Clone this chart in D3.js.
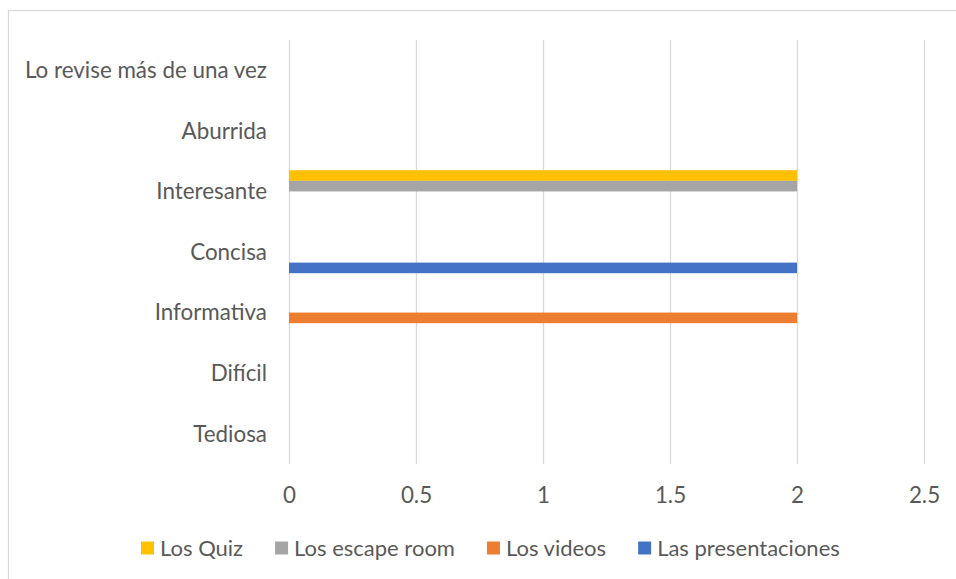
<!DOCTYPE html>
<html>
<head>
<meta charset="utf-8">
<script src="https://cdn.jsdelivr.net/npm/d3@7"></script>
<style>
  html, body { margin: 0; padding: 0; background: #fff; overflow: hidden; }
  svg { display: block; }
  text { font-family: Lato, "Open Sans", sans-serif; }
</style>
</head>
<body>
<script>
// Categories listed top to bottom
const categories = ["Lo revise más de una vez", "Aburrida", "Interesante", "Concisa", "Informativa", "Difícil", "Tediosa"];
const seriesNames = ["Los Quiz", "Los escape room", "Los videos", "Las presentaciones"];
const seriesColors = ["#FFC000", "#A5A5A5", "#ED7D31", "#4472C4"];
// Values per series, in the same order as categories
const quizValues          = [0, 0, 2, 0, 0, 0, 0];
const escapeRoomValues    = [0, 0, 2, 0, 0, 0, 0];
const videoValues         = [0, 0, 0, 0, 2, 0, 0];
const presentationValues  = [0, 0, 0, 2, 0, 0, 0];
const xTicks = [0, 0.5, 1, 1.5, 2, 2.5];

const seriesValues = [quizValues, escapeRoomValues, videoValues, presentationValues];

const W = 956, H = 579;
const plot = { left: 289, right: 924, top: 40, bottom: 464 };
const FONT = "22.4px";
const LEGEND_FONT = "22px";
const TEXT = "#595959";

const svg = d3.select("body").append("svg").attr("width", W).attr("height", H);

// chart frame (runs past the right and bottom edges)
svg.append("rect").attr("x", 8.5).attr("y", 10.5).attr("width", W + 20).attr("height", H + 20)
  .attr("fill", "#fff").attr("stroke", "#d9d9d9").attr("stroke-width", 1.2);

const x = d3.scaleLinear().domain([0, 2.5]).range([plot.left, plot.right]);
const y = d3.scaleBand().domain(categories).range([plot.top, plot.bottom])
  .paddingInner(0.3).paddingOuter(0.15);
const yOuter = d3.scaleBand().domain(categories).range([plot.top, plot.bottom]);
const ySub = d3.scaleBand().domain(seriesNames).range([0, y.bandwidth()]);

// vertical gridlines
svg.append("g").selectAll("line").data(xTicks).join("line")
  .attr("x1", d => Math.round(x(d)) + 0.5).attr("x2", d => Math.round(x(d)) + 0.5)
  .attr("y1", plot.top).attr("y2", plot.bottom)
  .attr("stroke", "#d9d9d9").attr("stroke-width", 1.3);

// x tick labels
const xAxis = d3.axisBottom(x).tickValues(xTicks).tickSize(0).tickPadding(0)
  .tickFormat(d3.format("~g"));
const gx = svg.append("g").attr("transform", `translate(0,${plot.bottom + 31})`).call(xAxis);
gx.select(".domain").remove();
gx.selectAll("text").attr("fill", TEXT).style("font-size", FONT)
  .attr("y", 0).attr("dy", "0.35em").style("font-family", "Lato, sans-serif");

// category labels
const yAxis = d3.axisLeft(yOuter).tickSize(0).tickPadding(0);
const gy = svg.append("g").attr("transform", `translate(${plot.left - 22},0)`).call(yAxis);
gy.select(".domain").remove();
gy.selectAll("text").attr("fill", TEXT).style("font-size", FONT)
  .attr("dy", "0.35em").style("font-family", "Lato, sans-serif");

// bars
const groups = svg.append("g").selectAll("g").data(categories).join("g")
  .attr("transform", d => `translate(0,${y(d)})`);
groups.selectAll("rect")
  .data((c, i) => seriesNames.map((s, k) => ({ s, k, v: seriesValues[k][i] })))
  .join("rect")
  .attr("x", x(0))
  .attr("y", d => ySub(d.s))
  .attr("width", d => x(d.v) - x(0))
  .attr("height", ySub.bandwidth())
  .attr("fill", d => seriesColors[d.k]);

// legend: entries laid out left to right after measuring each label
const legend = svg.append("g").attr("transform", "translate(141,548)");
let lx = 0;
seriesNames.forEach((name, k) => {
  const item = legend.append("g").attr("transform", `translate(${lx},0)`);
  item.append("rect").attr("x", 0).attr("y", -6.5).attr("width", 13).attr("height", 13)
    .attr("fill", seriesColors[k]);
  const t = item.append("text").attr("x", 19).attr("y", 0).attr("dy", "0.35em")
    .attr("fill", TEXT).style("font-size", LEGEND_FONT).text(name);
  lx += 19 + t.node().getComputedTextLength() + 32;
});
</script>
</body>
</html>
